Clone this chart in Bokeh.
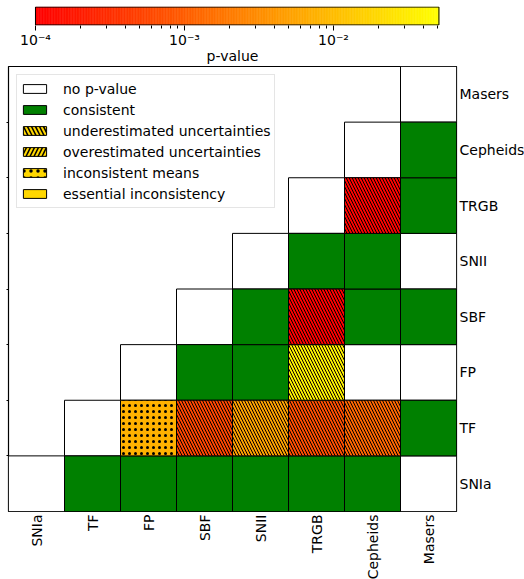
import numpy as np
from bokeh.plotting import figure
from bokeh.layouts import column
from bokeh.models import (Range1d, FixedTicker, LogColorMapper, CustomJSTickFormatter,
                          LinearAxis, Legend, LegendItem, ColumnDataSource)
from bokeh.transform import transform
from bokeh.embed import file_html
from bokeh.resources import INLINE

# ---------------- data ----------------
categories = ["SNIa", "TF", "FP", "SBF", "SNII", "TRGB", "Cepheids", "Masers"]

# each cell: column method, row method, status, p-value
cell_col = ["SNIa", "TF", "FP", "SBF", "SNII", "TRGB", "Cepheids", "Masers",
            "TF", "FP", "SBF", "SNII", "TRGB", "Cepheids", "Masers",
            "FP", "SBF", "SNII", "TRGB", "Cepheids", "Masers",
            "SBF", "SNII", "TRGB", "Cepheids", "Masers",
            "SNII", "TRGB", "Cepheids", "Masers",
            "TRGB", "Cepheids", "Masers",
            "Cepheids", "Masers",
            "Masers"]
cell_row = ["SNIa"] * 8 + ["TF"] * 7 + ["FP"] * 6 + ["SBF"] * 5 + ["SNII"] * 4 + \
           ["TRGB"] * 3 + ["Cepheids"] * 2 + ["Masers"]
cell_status = ["none", "consistent", "consistent", "consistent", "consistent", "consistent", "consistent", "none",
               "none", "means", "under", "under", "under", "under", "consistent",
               "none", "consistent", "consistent", "under", "none", "none",
               "none", "consistent", "under", "consistent", "consistent",
               "none", "consistent", "consistent", "none",
               "none", "under", "consistent",
               "none", "consistent",
               "none"]
cell_p = [np.nan, np.nan, np.nan, np.nan, np.nan, np.nan, np.nan, np.nan,
          np.nan, 7.5e-3, 5.5e-4, 5.0e-3, 7.0e-4, 1.2e-3, np.nan,
          np.nan, np.nan, np.nan, 3.5e-2, np.nan, np.nan,
          np.nan, np.nan, 1.0e-4, np.nan, np.nan,
          np.nan, np.nan, np.nan, np.nan,
          np.nan, 1.1e-4, np.nan,
          np.nan, np.nan,
          np.nan]

p_low, p_high = 1e-4, 5.1e-2
cb_view = (10 ** -4.181, 10 ** -1.1745)   # visible span of the colorbar panel
legend_labels = ["no p-value", "consistent", "underestimated uncertainties",
                 "overestimated uncertainties", "inconsistent means", "essential inconsistency"]

FONT = "DejaVu Sans"
FS = "14px"

# autumn colormap (red -> yellow)
palette = ["#ff%02x00" % i for i in range(256)]
mapper = LogColorMapper(palette=palette, low=p_low, high=p_high)

# ---------------- colorbar figure ----------------
cb = figure(frame_width=448, frame_height=19, x_axis_type="log",
            x_range=Range1d(*cb_view), y_range=Range1d(-0.03, 1.03),
            y_axis_location=None, output_backend="svg", toolbar_location=None,
            min_border_left=8, min_border_right=0, min_border_top=6, min_border_bottom=0)
edges = np.logspace(np.log10(p_low), np.log10(p_high), len(palette) + 1)
cb.quad(left=edges[:-1], right=edges[1:], bottom=0, top=1,
        fill_color=palette, line_color=palette, line_width=0.6)
cb.quad(left=[p_low], right=[p_high], bottom=[0], top=[1], fill_color=None,
        line_color="black", line_width=1)
cb.grid.visible = False
cb.outline_line_color = None
major = [1e-4, 1e-3, 1e-2]
minor = [m * 10.0 ** k for k in (-4, -3, -2) for m in range(2, 10) if m * 10.0 ** k <= p_high]
cb.xaxis.ticker = FixedTicker(ticks=major, minor_ticks=minor)
cb.xaxis.formatter = CustomJSTickFormatter(code="""
const e = Math.round(Math.log10(tick));
const sup = {'-':'\u207b','0':'\u2070','1':'\u00b9','2':'\u00b2','3':'\u00b3','4':'\u2074',
             '5':'\u2075','6':'\u2076','7':'\u2077','8':'\u2078','9':'\u2079'};
return '10' + String(e).split('').map(c => sup[c]).join('');
""")
cb.xaxis.major_label_text_font = FONT
cb.xaxis.major_label_text_font_size = FS
cb.xaxis.major_label_text_color = "black"
cb.xaxis.major_label_standoff = 1
cb.xaxis.major_tick_out = 5
cb.xaxis.major_tick_in = 0
cb.xaxis.major_tick_line_color = "black"
cb.xaxis.minor_tick_out = 3
cb.xaxis.minor_tick_in = 0
cb.xaxis.minor_tick_line_color = "black"
cb.xaxis.axis_line_color = None
cb.xaxis.axis_label = "p-value"
cb.xaxis.axis_label_text_font = FONT
cb.xaxis.axis_label_text_font_size = FS
cb.xaxis.axis_label_text_font_style = "normal"
cb.xaxis.axis_label_text_color = "black"
cb.xaxis.axis_label_standoff = -3

# ---------------- main figure ----------------
p = figure(frame_width=448, frame_height=445, x_range=Range1d(0, 8), y_range=Range1d(0, 8),
           y_axis_location="right", output_backend="svg", toolbar_location=None,
           min_border_left=8, min_border_top=0, min_border_right=0, min_border_bottom=0)
p.grid.visible = False
p.outline_line_color = "black"
p.outline_line_width = 1.2

idx = {c: i for i, c in enumerate(categories)}
centers = [i + 0.5 for i in range(len(categories))]
labels = {i + 0.5: c for i, c in enumerate(categories)}

for ax, orient in ((p.xaxis[0], np.pi / 2), (p.yaxis[0], "horizontal")):
    ax.ticker = FixedTicker(ticks=centers)
    ax.major_label_overrides = labels
    ax.major_label_orientation = orient
    ax.major_tick_out = 0
    ax.major_tick_in = 0
    ax.minor_tick_out = 0
    ax.minor_tick_in = 0
    ax.axis_line_color = None
    ax.major_label_text_font = FONT
    ax.major_label_text_font_size = FS
    ax.major_label_text_color = "black"
    ax.major_label_standoff = 3

left_ax = LinearAxis(ticker=FixedTicker(ticks=list(range(1, len(categories)))),
                     formatter=CustomJSTickFormatter(code="return '';"),
                     major_label_standoff=0, major_tick_line_color="black",
                     major_tick_out=2, major_tick_in=0, minor_tick_out=0, minor_tick_in=0,
                     axis_line_color=None)
p.add_layout(left_ax, "left")


def cells(status):
    sel = [k for k, s in enumerate(cell_status) if s == status]
    x = [idx[cell_col[k]] for k in sel]
    y = [idx[cell_row[k]] for k in sel]
    return ColumnDataSource(dict(left=x, right=[v + 1 for v in x], bottom=y,
                                 top=[v + 1 for v in y], pv=[cell_p[k] for k in sel]))


p.quad(left="left", right="right", bottom="bottom", top="top", source=cells("none"),
       fill_color="white", line_color="black", line_width=1)
p.quad(left="left", right="right", bottom="bottom", top="top", source=cells("consistent"),
       fill_color="green", line_color="black", line_width=1)
p.quad(left="left", right="right", bottom="bottom", top="top", source=cells("under"),
       fill_color=transform("pv", mapper), line_color="black", line_width=1,
       hatch_pattern="\\", hatch_color="black", hatch_weight=1, hatch_scale=6)
p.quad(left="left", right="right", bottom="bottom", top="top", source=cells("means"),
       fill_color=transform("pv", mapper), line_color="black", line_width=1,
       hatch_pattern=".", hatch_color="black", hatch_weight=2.5, hatch_scale=6)

# legend proxies (placed outside the visible range)
proxy = dict(left=[-3], right=[-2], bottom=[-3], top=[-2])
styles = [dict(fill_color="white"),
          dict(fill_color="green"),
          dict(fill_color="gold", hatch_pattern="\\", hatch_color="black", hatch_weight=1.5, hatch_scale=8),
          dict(fill_color="gold", hatch_pattern="/", hatch_color="black", hatch_weight=1.5, hatch_scale=8),
          dict(fill_color="gold", hatch_pattern=".", hatch_color="black", hatch_weight=3, hatch_scale=7),
          dict(fill_color="gold")]
items = []
for lab, st in zip(legend_labels, styles):
    r = p.quad(left="left", right="right", bottom="bottom", top="top",
               source=ColumnDataSource(proxy), line_color="black", line_width=1, **st)
    items.append(LegendItem(label=lab, renderers=[r]))

legend = Legend(items=items, location="top_left", margin=8, padding=3, spacing=0,
                label_height=21, glyph_height=11, glyph_width=29, label_standoff=14,
                label_text_font=FONT, label_text_font_size=FS, label_text_color="black",
                border_line_color="#cccccc", border_line_width=1,
                background_fill_color="white", background_fill_alpha=0.8)
p.add_layout(legend, "center")

layout = column(cb, p)
open("out.html", "w").write(file_html(layout, INLINE))
